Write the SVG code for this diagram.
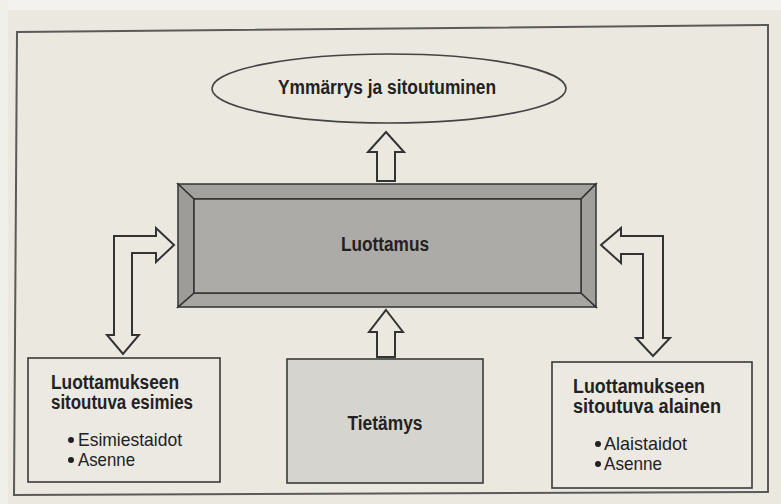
<svg xmlns="http://www.w3.org/2000/svg" width="781" height="504" viewBox="0 0 781 504">
  <style>
    .lbl { font-family: "Liberation Sans", Arial, sans-serif; font-weight: bold; font-size: 20px; fill: #222; }
    .item { font-family: "Liberation Sans", Arial, sans-serif; font-size: 18.5px; fill: #222; }
    .box { stroke: #3a3a3a; stroke-width: 1.6; }
    .arrow { fill: #ebe8e0; stroke: #333; stroke-width: 2; stroke-linejoin: miter; }
    .bevel { stroke: #333; stroke-width: 1.5; stroke-linejoin: miter; }
  </style>

  <!-- page -->
  <rect x="0" y="0" width="781" height="504" fill="#ebe8e0"/>
  <rect x="0" y="0" width="781" height="10" fill="#f4f2ee"/>
  <rect x="0" y="0" width="8" height="504" fill="#f1efea"/>

  <!-- outer frame of the figure -->
  <polygon points="17,32 768,25 768,492 14,495" fill="none" stroke="#5a5a5a" stroke-width="2"/>

  <!-- connectors -->
  <g id="connectors">
    <!-- Luottamus -> Ymmärrys ja sitoutuminen -->
    <polygon class="arrow" points="386,132 404,152 395,152 395,181 377,181 377,152 368,152"/>
    <!-- Tietämys -> Luottamus -->
    <polygon class="arrow" points="386,310 403,332 395,332 395,357 377,357 377,332 369,332"/>
    <!-- esimies <-> Luottamus -->
    <polygon class="arrow" points="174,245 156,228 156,236 114,236 114,335 107,335 123,354 139,335 132,335 132,253 156,253 156,262"/>
    <!-- alainen <-> Luottamus -->
    <polygon class="arrow" points="601,245 621,228 621,236 663,236 663,338 670,338 653,356 636,338 643,338 643,254 621,254 621,263"/>
  </g>

  <!-- Ymmärrys ja sitoutuminen -->
  <g id="ymmarrys">
    <ellipse cx="389" cy="88.5" rx="177" ry="34.5" fill="none" stroke="#444" stroke-width="1.6"/>
    <text class="lbl" x="387" y="94" text-anchor="middle" textLength="218" lengthAdjust="spacingAndGlyphs">Ymmärrys ja sitoutuminen</text>
  </g>

  <!-- Luottamus (bevelled panel) -->
  <g id="luottamus">
    <polygon class="bevel" points="178,184 596,184 581,199 194,199" fill="#a3a19d"/>
    <polygon class="bevel" points="178,307 596,307 581,293 194,293" fill="#a8a6a2"/>
    <polygon class="bevel" points="178,184 194,199 194,293 178,307" fill="#9e9c98"/>
    <polygon class="bevel" points="596,184 581,199 581,293 596,307" fill="#a19f9b"/>
    <rect class="bevel" x="194" y="199" width="387" height="94" fill="#adaba7"/>
    <text class="lbl" x="385" y="251" text-anchor="middle" textLength="88" lengthAdjust="spacingAndGlyphs">Luottamus</text>
  </g>

  <!-- Luottamukseen sitoutuva esimies -->
  <g id="esimies">
    <rect class="box" x="28" y="358" width="192" height="124" fill="#ece9e2"/>
    <text class="lbl" x="51" y="389" textLength="128" lengthAdjust="spacingAndGlyphs">Luottamukseen</text>
    <text class="lbl" x="51" y="409" textLength="142" lengthAdjust="spacingAndGlyphs">sitoutuva esimies</text>
    <circle cx="71" cy="440" r="3" fill="#222"/>
    <text class="item" x="78" y="446" textLength="104" lengthAdjust="spacingAndGlyphs">Esimiestaidot</text>
    <circle cx="71" cy="460" r="3" fill="#222"/>
    <text class="item" x="78" y="466" textLength="57" lengthAdjust="spacingAndGlyphs">Asenne</text>
  </g>

  <!-- Tietämys -->
  <g id="tietamys">
    <rect class="box" x="287" y="359" width="196" height="124" fill="#d6d4ce"/>
    <text class="lbl" x="385" y="430" text-anchor="middle" textLength="75" lengthAdjust="spacingAndGlyphs">Tietämys</text>
  </g>

  <!-- Luottamukseen sitoutuva alainen -->
  <g id="alainen">
    <rect class="box" x="552" y="362" width="200" height="126" fill="#ece9e2"/>
    <text class="lbl" x="573" y="393" textLength="132" lengthAdjust="spacingAndGlyphs">Luottamukseen</text>
    <text class="lbl" x="573" y="413" textLength="148" lengthAdjust="spacingAndGlyphs">sitoutuva alainen</text>
    <circle cx="598" cy="444" r="3" fill="#222"/>
    <text class="item" x="604" y="450" textLength="83" lengthAdjust="spacingAndGlyphs">Alaistaidot</text>
    <circle cx="598" cy="464" r="3" fill="#222"/>
    <text class="item" x="604" y="470" textLength="58" lengthAdjust="spacingAndGlyphs">Asenne</text>
  </g>
</svg>
